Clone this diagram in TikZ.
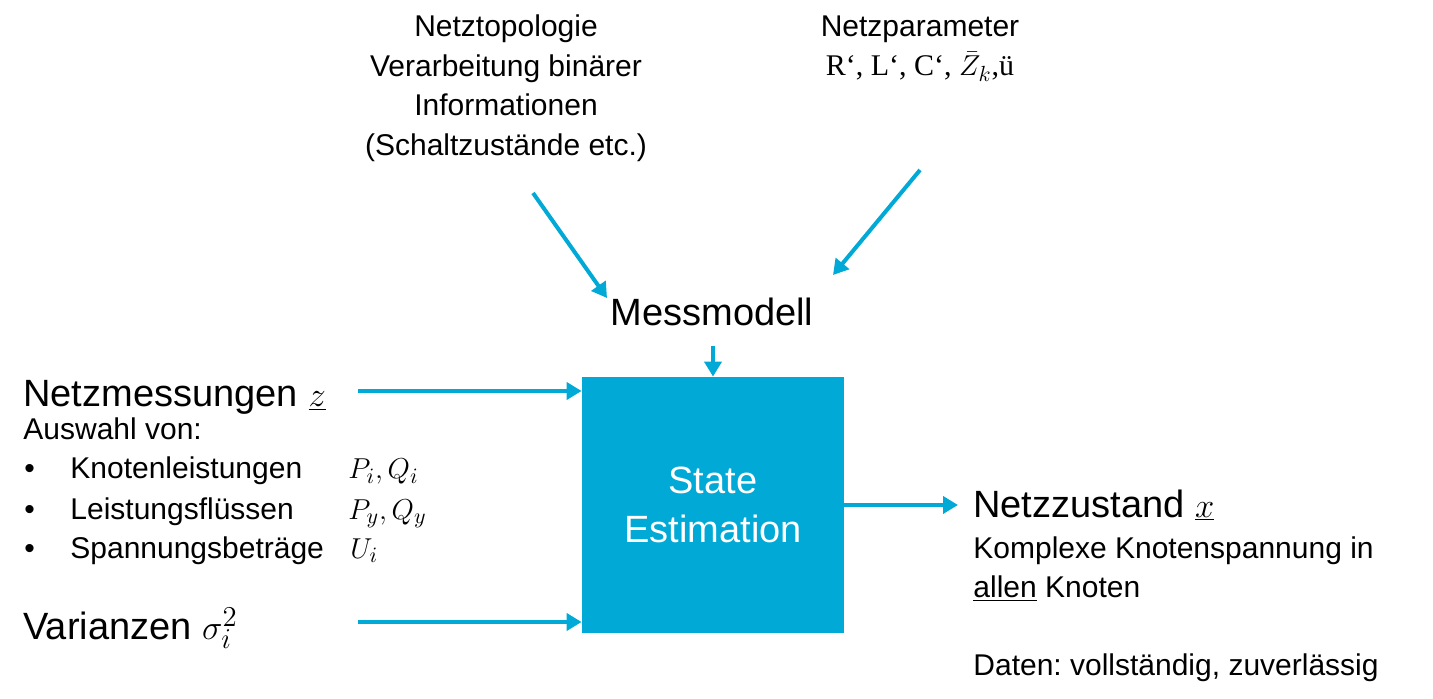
\documentclass[tikz,border=0pt]{standalone}
\usepackage{fontspec}
\setmainfont{Liberation Sans}
\newfontfamily\serifrm{Liberation Serif}
\usetikzlibrary{arrows.meta}
\definecolor{seblue}{RGB}{0,169,214}
\frenchspacing
\begin{document}
\begin{tikzpicture}[x=0.5pt,y=-0.5pt,
  conn/.style={seblue, line width=2pt, -{Triangle[length=7.5pt,width=8.5pt]}},
  txt/.style={inner sep=0pt, anchor=base west, font=\fontsize{15}{19.75}\selectfont},
  txtc/.style={inner sep=0pt, anchor=base, align=center, font=\fontsize{15}{19.75}\selectfont},
  big/.style={inner sep=0pt, anchor=base west, font=\fontsize{19}{24.5}\selectfont},
  bigc/.style={inner sep=0pt, anchor=base, font=\fontsize{19}{24.5}\selectfont},
  sebox/.style={fill=seblue, minimum width=131pt, minimum height=128pt, inner sep=0pt,
    text=white, align=center, font=\fontsize{19}{24.5}\selectfont}
]
\useasboundingbox (0,0) rectangle (1433,699);

% central box
\node[sebox] (se) at (713,505) {State\\Estimation};

% top inputs (base anchor = baseline of last line)
\node[txtc] (topo) at (506,155.5) {Netztopologie\\Verarbeitung binärer\\Informationen\\(Schaltzustände etc.)};
\node[txtc] (param) at (920,76) {Netzparameter\\{\serifrm R‘, L‘, C‘, $\bar{Z}_k$,ü}};
\node[bigc] (mm) at (712,326) {Messmodell};

% left inputs
\node[big] (nm) at (23,407) {Netzmessungen $\underline{z}$};
\node[txt] (ausw) at (23,440) {Auswahl von:};
\node[txt] (b1) at (24,479) {\textbullet};
\node[txt] (l1) at (70,479) {Knotenleistungen};
\node[txt] (m1) at (348,479) {$P_i, Q_i$};
\node[txt] (b2) at (24,519) {\textbullet};
\node[txt] (l2) at (70,519) {Leistungsflüssen};
\node[txt] (m2) at (348,519) {$P_y, Q_y$};
\node[txt] (b3) at (24,558) {\textbullet};
\node[txt] (l3) at (70,558) {Spannungsbeträge};
\node[txt] (m3) at (350,558) {$U_i$};
\node[big] (var) at (23,639) {Varianzen $\sigma_i^2$};

% output
\node[big] (nz) at (973,517) {Netzzustand $\underline{x}$};
\node[txt] (k1) at (973,558) {Komplexe Knotenspannung in};
\node[txt] (k2) at (973,597) {\underline{allen} Knoten};
\node[txt] (k3) at (973,675) {Daten: vollständig, zuverlässig};

% connectors
\coordinate (zin) at (358,391);
\coordinate (sin) at (358,622);
\coordinate (xout) at (958,505);
\coordinate (mmout) at (713,346);
\coordinate (t1) at (533,193);
\coordinate (t1e) at (607,298);
\coordinate (t2) at (920,170);
\coordinate (t2e) at (833,275);

\draw[conn] (zin) -- (se.west |- zin);
\draw[conn] (sin) -- (se.west |- sin);
\draw[conn] (se.east) -- (xout);
\draw[conn] (mmout) -- (se.north);
\draw[conn] (t1) -- (t1e);
\draw[conn] (t2) -- (t2e);
\end{tikzpicture}
\end{document}
